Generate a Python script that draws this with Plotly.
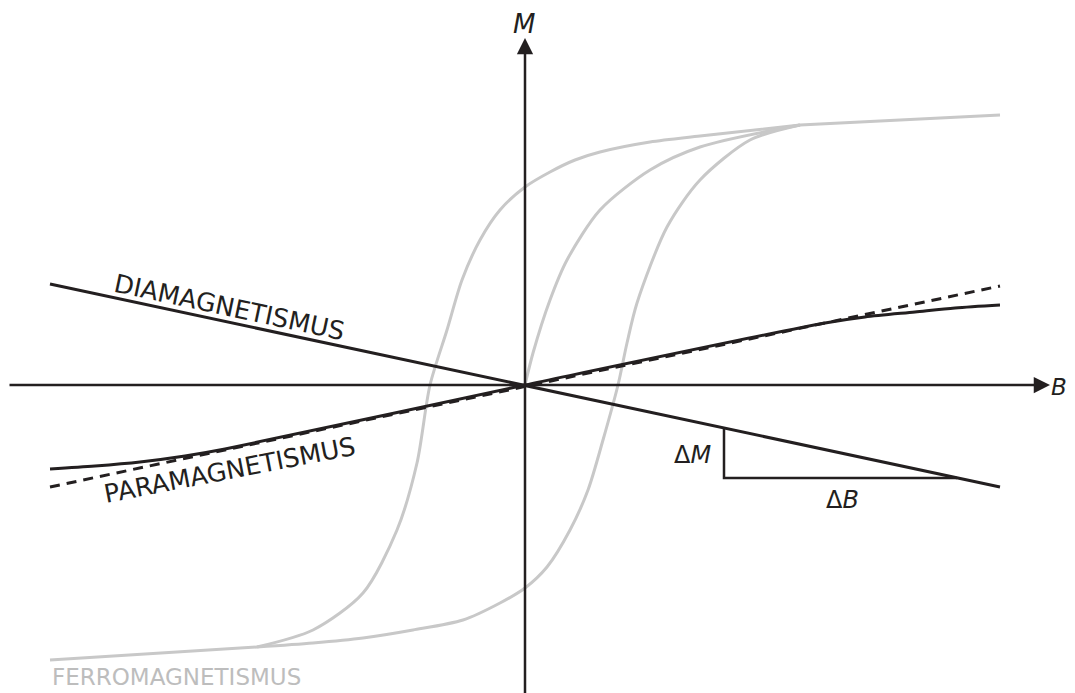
import plotly.graph_objects as go

# diamagnetism (straight line through origin, negative slope)
dia_B = [-475, 475]
dia_M = [101, -102]

# paramagnetism: linear law (dashed) and real curve (saturating)
para_lin_B = [-475, 475]
para_lin_M = [-102, 99]
para_B = [-475, -430, -385, -340, -300, 0, 300, 340, 390, 430, 475]
para_M = [-84, -81, -77, -71, -64, 0, 62, 68, 73, 77, 80]

# ferromagnetism: hysteresis loop + virgin curve + saturation parts
desc_B = [275, 175, 125, 75, 50, 25, 0, -25, -45, -63, -78, -95, -108, -128, -162, -212, -268]
desc_M = [260, 249, 243, 233, 225, 213, 198, 175, 145, 105, 55, 0, -78, -145, -208, -245, -262]
asc_B = [-268, -212, -162, -112, -62, -25, 0, 22, 45, 63, 78, 93, 102, 112, 142, 175, 225, 275]
asc_M = [-262, -258, -253, -245, -235, -218, -203, -182, -145, -105, -55, 0, 42, 82, 158, 205, 245, 260]
virgin_B = [0, 8, 25, 42, 75, 125, 175, 275]
virgin_M = [0, 32, 85, 125, 175, 215, 238, 260]
sat_top_B = [275, 475]
sat_top_M = [260, 270]
sat_bot_B = [-475, -268]
sat_bot_M = [-275, -262]

# slope triangle
tri_B = [199, 199, 432]
tri_M = [-42, -93, -93]

BLACK = "#231f20"
GRAY = "#c8c8c8"
FONT = "DejaVu Sans"

fig = go.Figure()

for xs, ys in [(desc_B, desc_M), (asc_B, asc_M), (virgin_B, virgin_M),
               (sat_top_B, sat_top_M), (sat_bot_B, sat_bot_M)]:
    fig.add_trace(go.Scatter(x=xs, y=ys, mode="lines",
                             line=dict(color=GRAY, width=3, shape="spline", smoothing=0.8),
                             hoverinfo="skip"))

fig.add_trace(go.Scatter(x=para_lin_B, y=para_lin_M, mode="lines",
                         line=dict(color=BLACK, width=3, dash="10px,7px")))
fig.add_trace(go.Scatter(x=para_B, y=para_M, mode="lines",
                         line=dict(color=BLACK, width=3, shape="spline", smoothing=0.8)))
fig.add_trace(go.Scatter(x=dia_B, y=dia_M, mode="lines",
                         line=dict(color=BLACK, width=3)))
fig.add_trace(go.Scatter(x=tri_B, y=tri_M, mode="lines",
                         line=dict(color=BLACK, width=2.5)))

# axes with arrows
fig.add_annotation(x=525, y=0, ax=-517, ay=0, xref="x", yref="y", axref="x", ayref="y",
                   showarrow=True, arrowhead=2, arrowsize=1.3, arrowwidth=2.5,
                   arrowcolor=BLACK, text="")
fig.add_annotation(x=0, y=347, ax=0, ay=-310, xref="x", yref="y", axref="x", ayref="y",
                   showarrow=True, arrowhead=2, arrowsize=1.3, arrowwidth=2.5,
                   arrowcolor=BLACK, text="")

labels = [
    dict(x=-1, y=361, text="<i>M</i>", size=26, angle=0, anchor="center"),
    dict(x=525, y=-2, text="<i>B</i>", size=23, angle=0, anchor="left"),
    dict(x=167, y=-70, text="Δ<i>M</i>", size=24, angle=0, anchor="center"),
    dict(x=317, y=-115, text="Δ<i>B</i>", size=24, angle=0, anchor="center"),
    dict(x=-296, y=78, text="DIAMAGNETISMUS", size=25.5, angle=12, anchor="center"),
    dict(x=-296, y=-85, text="PARAMAGNETISMUS", size=25.5, angle=-11, anchor="center"),
]
for lb in labels:
    fig.add_annotation(x=lb["x"], y=lb["y"], text=lb["text"], showarrow=False,
                       textangle=lb["angle"], xanchor=lb["anchor"], yanchor="middle",
                       borderpad=0,
                       font=dict(family=FONT, size=lb["size"], color=BLACK))

fig.add_annotation(x=-475, y=-292, text="FERROMAGNETISMUS", showarrow=False,
                   xanchor="left", yanchor="middle",
                   font=dict(family=FONT, size=23, color="#bdbdbd"))

# the page body has an 8px margin, so the figure is 8px smaller and the
# ranges start 8 data units later to keep the origin where it belongs
fig.update_layout(
    width=1067, height=685,
    margin=dict(l=0, r=0, t=0, b=0),
    paper_bgcolor="white", plot_bgcolor="white",
    showlegend=False,
    xaxis=dict(range=[-517, 550], visible=False, fixedrange=True),
    yaxis=dict(range=[-308, 377], visible=False, fixedrange=True),
)

fig.write_html("out.html")
